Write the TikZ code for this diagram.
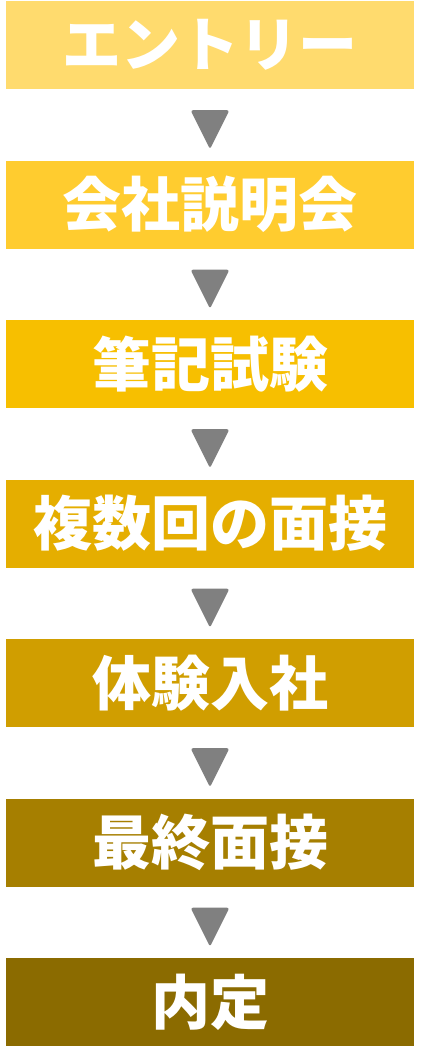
\documentclass[tikz,border=0pt]{standalone}
\usepackage{fontspec}
\newfontfamily\jp{Noto Sans CJK JP}
\usetikzlibrary{calc}
\definecolor{c1}{HTML}{FFDB6E}
\definecolor{c2}{HTML}{FFCC2F}
\definecolor{c3}{HTML}{F7BF00}
\definecolor{c4}{HTML}{E5AE00}
\definecolor{c5}{HTML}{D09E00}
\definecolor{c6}{HTML}{A67F00}
\definecolor{c7}{HTML}{8B6B00}
\definecolor{arrowgray}{HTML}{808080}
\tikzset{
  stepbox/.style={minimum width=408pt, minimum height=88pt, inner sep=0pt,
    text=white, font=\jp\bfseries\fontsize{59pt}{62pt}\selectfont},
  tri/.style={fill=arrowgray, rounded corners=2.5pt}
}
\begin{document}
\begin{tikzpicture}[x=1pt,y=-1pt]
\useasboundingbox[fill=white] (0,0) rectangle (420,1054);
\node[stepbox, fill=c1] (b1) at (210,45) {エントリー};
\node[stepbox, fill=c2] (b2) at (210,204.5) {会社説明会};
\node[stepbox, fill=c3] (b3) at (210,364) {筆記試験};
\node[stepbox, fill=c4] (b4) at (210,523.5) {複数回の面接};
\node[stepbox, fill=c5] (b5) at (210,683) {体験入社};
\node[stepbox, fill=c6] (b6) at (210,842.5) {最終面接};
\node[stepbox, fill=c7] (b7) at (210,1002) {内定};
\foreach \a/\b in {b1/b2,b2/b3,b3/b4,b4/b5,b5/b6,b6/b7}{
  \fill[tri] ($(\a.south)+(-19.5,21)$) -- ($(\a.south)+(19.5,21)$) -- ($(\a.south)+(0,60)$) -- cycle;
}
\end{tikzpicture}
\end{document}
